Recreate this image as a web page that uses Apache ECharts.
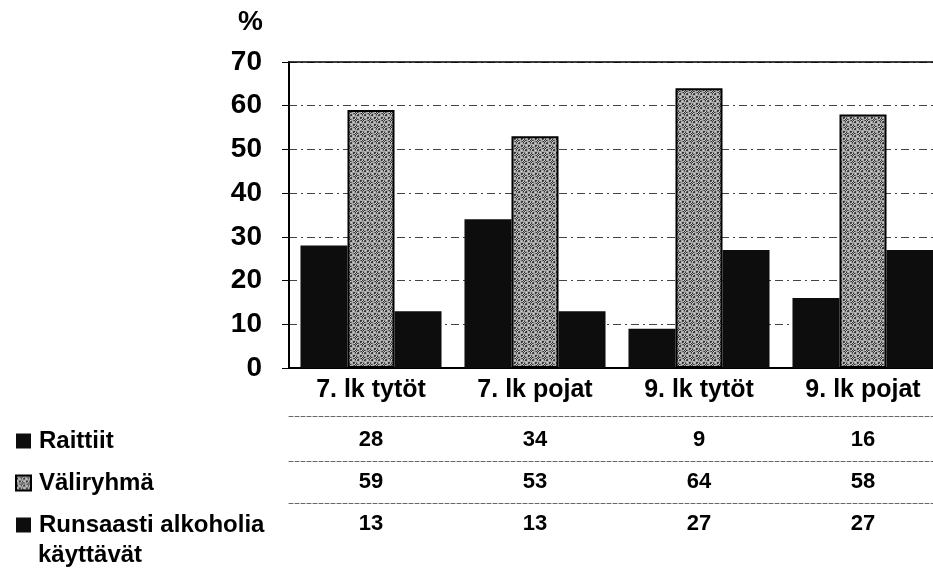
<!DOCTYPE html>
<html>
<head>
<meta charset="utf-8">
<script src="https://cdn.jsdelivr.net/npm/echarts@6/dist/echarts.min.js"></script>
<style>
  html, body { margin: 0; padding: 0; background: #fff; overflow: hidden; }
  #chart { width: 960px; height: 570px; }
</style>
</head>
<body>
<div id="chart"></div>
<script>
// data
const categories = ['7. lk tytöt', '7. lk pojat', '9. lk tytöt', '9. lk pojat']
const seriesNames = ['Raittiit', 'Väliryhmä', 'Runsaasti alkoholia käyttävät']
const raittiit = [28, 34, 9, 16]
const valiryhma = [59, 53, 64, 58]
const runsaasti = [13, 13, 27, 27]
const yMin = 0, yMax = 70, yStep = 10

const FONT = '"Liberation Sans", Arial, sans-serif'

// speckled grey fill like the scanned pattern (fixed layout, no randomness)
function makePattern() {
  const c = document.createElement('canvas')
  c.width = 7; c.height = 7
  const ctx = c.getContext('2d')
  ctx.fillStyle = '#a8a8a8'
  ctx.fillRect(0, 0, 7, 7)
  for (let x = 0; x < 7; x++) {
    for (let y = 0; y < 7; y++) {
      const k = (x * 3 + y * 5 + x * y) % 7
      if (k < 2) { ctx.fillStyle = '#333'; ctx.fillRect(x, y, 1, 1) }
      else if (k === 3) { ctx.fillStyle = '#6e6e6e'; ctx.fillRect(x, y, 1, 1) }
      else if (k === 5) { ctx.fillStyle = '#d0d0d0'; ctx.fillRect(x, y, 1, 1) }
    }
  }
  return c
}
const grey = { image: makePattern(), repeat: 'repeat' }

// one category axis per table row, its labels are the row's values
function tableAxis(values, offset, margin) {
  return {
    type: 'category',
    data: categories,
    position: 'bottom',
    offset: offset,
    axisLine: { show: true, lineStyle: { color: '#666', type: 'dashed', width: 1 } },
    axisTick: { show: false },
    splitLine: { show: false },
    axisLabel: {
      margin: margin,
      lineHeight: 24,
      fontFamily: FONT,
      fontSize: 22,
      fontWeight: 'bold',
      color: '#000',
      formatter: (v, i) => String(values[i])
    }
  }
}

const chart = echarts.init(document.getElementById('chart'), null, { renderer: 'canvas' })

chart.setOption({
  backgroundColor: '#fff',
  animation: false,
  grid: { left: 289, right: 15, top: 62, bottom: 202, containLabel: false },
  legend: {
    orient: 'vertical',
    left: 15,
    top: 425,
    height: 300,
    padding: 0,
    itemWidth: 15,
    itemHeight: 15,
    itemGap: 10,
    icon: 'rect',
    selectedMode: false,
    // second line of the last name is set below as its own text
    formatter: name => name === seriesNames[2] ? 'Runsaasti alkoholia' : name,
    textStyle: {
      fontFamily: FONT, fontSize: 24, fontWeight: 'bold', color: '#000',
      lineHeight: 32, padding: [0, 0, 0, 3]
    },
    data: seriesNames
  },
  graphic: [{
    type: 'text',
    left: 38,
    top: 543,
    style: {
      text: 'käyttävät',
      font: 'bold 24px ' + FONT,
      fill: '#000'
    }
  }],
  xAxis: [
    {
      type: 'category',
      data: categories,
      position: 'bottom',
      axisLine: { show: true, lineStyle: { color: '#000', width: 2 } },
      axisTick: { show: false },
      splitLine: { show: false },
      axisLabel: {
        margin: 10,
        lineHeight: 24,
        fontFamily: FONT,
        fontSize: 25,
        fontWeight: 'bold',
        color: '#000'
      }
    },
    {
      type: 'category',
      data: categories,
      position: 'top',
      axisLine: { show: true, lineStyle: { color: '#000', width: 1.5 } },
      axisTick: { show: false },
      axisLabel: { show: false },
      splitLine: { show: false }
    },
    tableAxis(raittiit, 48, 12),
    tableAxis(valiryhma, 93, 9),
    tableAxis(runsaasti, 135, 9)
  ],
  yAxis: {
    type: 'value',
    min: yMin,
    max: yMax,
    interval: yStep,
    name: '%',
    nameLocation: 'end',
    nameGap: 26,
    nameTextStyle: {
      fontFamily: FONT, fontSize: 28, fontWeight: 'bold', color: '#000',
      align: 'right', padding: [0, 26, 0, 0]
    },
    axisLine: { show: true, lineStyle: { color: '#000', width: 2 } },
    axisTick: { show: true, length: 7, lineStyle: { color: '#000' } },
    splitLine: { show: true, lineStyle: { color: '#444', type: [8, 4, 2, 4], width: 1 } },
    axisLabel: {
      margin: 27,
      fontFamily: FONT,
      fontSize: 28,
      fontWeight: 'bold',
      color: '#000'
    }
  },
  series: [
    {
      name: seriesNames[0],
      type: 'bar',
      data: raittiit,
      barGap: '0%',
      barCategoryGap: '14%',
      itemStyle: { color: '#0d0d0d' }
    },
    {
      name: seriesNames[1],
      type: 'bar',
      data: valiryhma,
      itemStyle: { color: grey, borderColor: '#000', borderWidth: 2 }
    },
    {
      name: seriesNames[2],
      type: 'bar',
      data: runsaasti,
      itemStyle: { color: '#0d0d0d' }
    }
  ]
})
</script>
</body>
</html>
